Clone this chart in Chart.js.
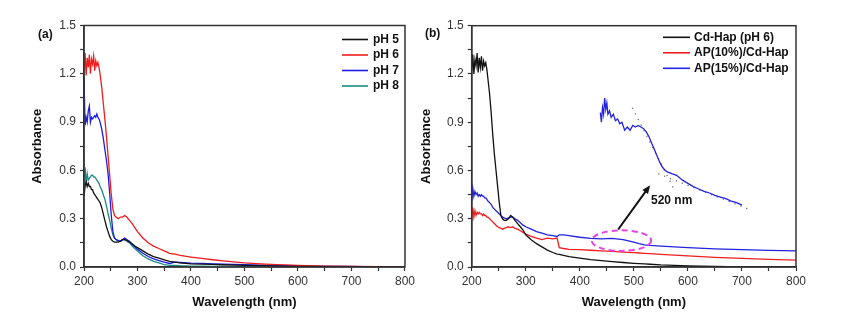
<!DOCTYPE html>
<html>
<head>
<meta charset="utf-8">
<script src="https://cdn.jsdelivr.net/npm/chart.js@4.4.0/dist/chart.umd.min.js"></script>
<style>
  body { margin: 0; background: #fff; }
  #wrap { position: relative; width: 842px; height: 335px; overflow: hidden; font-family: Arial, "Liberation Sans", sans-serif; }
  canvas { position: absolute; top: 0; }
  .tag { position: absolute; font-weight: bold; font-size: 12px; color: #111; }
</style>
</head>
<body>
<div id="wrap">
  <canvas id="chartA" width="418" height="335" style="left:0"></canvas>
  <canvas id="chartB" width="424" height="335" style="left:418px"></canvas>
  <div class="tag" style="left:38px;top:27px">(a)</div>
  <div class="tag" style="left:425px;top:26px">(b)</div>
</div>
<script>
// ---- panel (a): Cd-Hap at different pH ----
const wlA = [200,202,204,206,208,210,212,214,216,218,
             220,222,224,226,228,230,233,236,239,242,
             245,248,251,254,257,260,264,268,272,276,
             280,285,290,295,300,310,320,330,340,350,
             360,370,380,400,420,440,460,480,500,530,
             560,600,650,700,750,800];
const ph5 = [0.44,0.50,0.53,0.50,0.52,0.50,0.50,0.48,0.48,0.46,
             0.45,0.44,0.43,0.42,0.41,0.40,0.37,0.33,0.29,0.25,
             0.22,0.19,0.17,0.16,0.155,0.155,0.155,0.16,0.17,0.17,
             0.165,0.155,0.145,0.13,0.12,0.10,0.08,0.065,0.055,0.045,
             0.035,0.03,0.025,0.02,0.018,0.016,0.014,0.012,0.01,0.008,
             0.006,0.004,0.002,0.001,0,0];
const ph6 = [1.22,1.33,1.19,1.30,1.24,1.32,1.20,1.29,1.26,1.31,
             1.22,1.28,1.25,1.27,1.24,1.20,1.12,1.02,0.92,0.81,
             0.69,0.57,0.45,0.36,0.32,0.31,0.30,0.31,0.31,0.32,
             0.31,0.29,0.27,0.245,0.22,0.18,0.15,0.13,0.115,0.10,
             0.085,0.08,0.072,0.062,0.053,0.045,0.038,0.032,0.026,0.02,
             0.015,0.01,0.006,0.004,0.002,0.001];
const ph7 = [1.18,0.88,0.93,0.90,0.97,1.00,0.90,0.93,0.92,0.93,
             0.94,0.93,0.95,0.93,0.92,0.90,0.86,0.80,0.73,0.66,
             0.58,0.46,0.32,0.22,0.18,0.17,0.165,0.16,0.17,0.18,
             0.17,0.16,0.14,0.125,0.11,0.085,0.065,0.05,0.04,0.03,
             0.022,0.03,0.028,0.024,0.022,0.02,0.018,0.016,0.014,0.012,
             0.01,0.008,0.005,0.003,0.001,0];
const ph8 = [0.50,0.62,0.52,0.58,0.54,0.55,0.56,0.57,0.57,0.56,
             0.56,0.55,0.54,0.53,0.52,0.50,0.48,0.45,0.42,0.38,
             0.33,0.29,0.24,0.20,0.18,0.17,0.16,0.16,0.17,0.17,
             0.16,0.15,0.13,0.115,0.10,0.07,0.05,0.035,0.025,0.015,
             0.01,0.01,0.008,0.006,0.005,0.004,0.003,0.002,0.002,0.001,
             0.001,0,0,0,0,0];

// ---- panel (b): Cd-Hap vs AP/Cd-Hap ----
const wlB = [200,202,204,206,208,210,212,214,216,218,
             220,222,224,226,228,230,233,236,239,242,
             245,248,251,254,257,260,264,268,272,276,
             280,285,290,295,300,310,320,330,340,350,
             358,362,370,380,400,420,440,460,480,500,
             510,520,530,550,600,650,700,750,800];
const cdHap = [1.22,1.32,1.20,1.29,1.25,1.33,1.21,1.30,1.24,1.31,
               1.22,1.28,1.25,1.27,1.23,1.17,1.08,0.96,0.82,0.70,
               0.60,0.50,0.40,0.32,0.30,0.29,0.29,0.30,0.32,0.31,
               0.29,0.27,0.25,0.23,0.20,0.17,0.145,0.125,0.105,0.09,
               0.08,0.078,0.072,0.065,0.055,0.046,0.04,0.034,0.028,0.023,
               0.021,0.019,0.017,0.013,0.007,0.003,0.001,0,0];
const ap10 = [0.29,0.37,0.31,0.35,0.32,0.34,0.33,0.34,0.33,0.33,
              0.32,0.33,0.32,0.32,0.31,0.31,0.30,0.29,0.28,0.27,
              0.26,0.25,0.245,0.24,0.235,0.24,0.245,0.25,0.245,0.25,
              0.24,0.235,0.225,0.215,0.205,0.19,0.18,0.17,0.18,0.175,
              0.18,0.12,0.115,0.11,0.108,0.104,0.10,0.097,0.093,0.089,
              0.087,0.085,0.083,0.079,0.069,0.06,0.054,0.048,0.043];
const ap15 = [0.41,0.49,0.44,0.47,0.45,0.46,0.44,0.45,0.44,0.45,
              0.44,0.44,0.43,0.43,0.42,0.41,0.40,0.39,0.37,0.36,
              0.35,0.34,0.33,0.32,0.31,0.305,0.30,0.305,0.31,0.31,
              0.30,0.29,0.275,0.26,0.25,0.235,0.22,0.21,0.20,0.195,
              0.19,0.20,0.20,0.195,0.185,0.178,0.175,0.178,0.17,0.155,
              0.145,0.138,0.134,0.13,0.12,0.113,0.108,0.103,0.10];

// magnified AP(15%) curve drawn inside panel (b)
const insetWl = [438,440,442,444,446,448,450,452,455,458,
                 462,466,470,474,478,483,488,493,498,503,
                 508,513,518,523,528,533,538,543,548,553,
                 558,563,570,579,590,600,610,620,630,640,
                 650,660,670,680,690,700];
const insetAbs = [0.96,0.90,0.99,0.95,1.05,0.98,1.02,0.95,0.97,0.93,
                  0.95,0.91,0.92,0.89,0.90,0.85,0.87,0.85,0.88,0.87,
                  0.88,0.87,0.86,0.84,0.81,0.77,0.73,0.69,0.65,0.62,
                  0.60,0.59,0.58,0.57,0.54,0.52,0.50,0.485,0.47,0.46,
                  0.445,0.435,0.425,0.41,0.40,0.385];
// tangent lines on the inset
const tanWl1 = [497, 575], tanAbs1 = [0.99, 0.48];
const tanWl2 = [545, 712], tanAbs2 = [0.58, 0.36];

function pts(xs, ys) {
    return xs.map((x, i) => ({ x: x, y: ys[i] }));
}

function line(label, xs, ys, color, extra) {
    return Object.assign({
        label: label,
        data: pts(xs, ys),
        borderColor: color,
        borderWidth: 1.3,
        pointRadius: 0,
        tension: 0,
        fill: false
    }, extra || {});
}

// box around the plot area (top and right sides)
const frame = {
    id: "frame",
    afterDatasetsDraw(chart) {
        const a = chart.chartArea, ctx = chart.ctx;
        ctx.save();
        ctx.strokeStyle = "#333";
        ctx.lineWidth = 1.5;
        ctx.strokeRect(a.left, a.top, a.right - a.left, a.bottom - a.top);
        ctx.restore();
    }
};

// legend drawn inside the plot, like the original
function legendBox(x0, x1, tx, y0, dy) {
    return {
        id: "legendBox",
        afterDraw(chart) {
            const ctx = chart.ctx;
            ctx.save();
            ctx.font = "bold 12px Arial, 'Liberation Sans', sans-serif";
            ctx.textBaseline = "middle";
            ctx.fillStyle = "#111";
            let row = 0;
            chart.data.datasets.forEach(ds => {
                if (ds.inLegend === false) return;
                const y = y0 + row * dy;
                ctx.strokeStyle = ds.borderColor;
                ctx.lineWidth = 1.6;
                ctx.beginPath();
                ctx.moveTo(x0, y);
                ctx.lineTo(x1, y);
                ctx.stroke();
                ctx.fillText(ds.label, tx, y);
                row++;
            });
            ctx.restore();
        }
    };
}

// dashed ellipse, arrow and "520 nm" note in panel (b)
const notes = {
    id: "notes",
    afterDatasetsDraw(chart) {
        const ctx = chart.ctx, xs = chart.scales.x, ys = chart.scales.y;
        const X = v => xs.getPixelForValue(v), Y = v => ys.getPixelForValue(v);
        ctx.save();
        // ellipse
        const cx = X(477), cy = Y(0.164);
        ctx.strokeStyle = "#e444e4";
        ctx.lineWidth = 2;
        ctx.setLineDash([6, 4]);
        ctx.beginPath();
        ctx.ellipse(cx, cy, X(532) - cx, Y(0.1) - cy, 0, 0, Math.PI * 2);
        ctx.stroke();
        ctx.setLineDash([]);
        // arrow
        const ax = X(471), ay = Y(0.233), bx = X(530), by = Y(0.508);
        const ang = Math.atan2(by - ay, bx - ax);
        ctx.strokeStyle = "#111";
        ctx.fillStyle = "#111";
        ctx.lineWidth = 2;
        ctx.beginPath();
        ctx.moveTo(ax, ay);
        ctx.lineTo(bx - 5 * Math.cos(ang), by - 5 * Math.sin(ang));
        ctx.stroke();
        ctx.beginPath();
        ctx.moveTo(bx, by);
        ctx.lineTo(bx - 9 * Math.cos(ang - 0.4), by - 9 * Math.sin(ang - 0.4));
        ctx.lineTo(bx - 9 * Math.cos(ang + 0.4), by - 9 * Math.sin(ang + 0.4));
        ctx.closePath();
        ctx.fill();
        // label
        ctx.font = "bold 12px Arial, 'Liberation Sans', sans-serif";
        ctx.textAlign = "center";
        ctx.textBaseline = "middle";
        ctx.fillText("520 nm", X(570), Y(0.415));
        ctx.restore();
    }
};

function axes(yWidth, yTitlePad) {
    const font = { family: "Arial, 'Liberation Sans', sans-serif" };
    return {
        x: {
            type: "linear", min: 200, max: 800,
            ticks: {
                stepSize: 50, autoSkip: false, maxRotation: 0, padding: 3,
                color: "#333", font: Object.assign({ size: 12 }, font),
                callback: v => (v % 100 === 0 ? v : "")
            },
            grid: { drawOnChartArea: false, drawTicks: true, tickLength: 4, tickColor: "#333", tickWidth: 1.2 },
            border: { color: "#333", width: 1.5 },
            title: {
                display: true, text: "Wavelength (nm)", color: "#111",
                font: Object.assign({ size: 13, weight: "bold" }, font),
                padding: { top: 0, bottom: 2 }
            },
            afterFit: s => { s.height = 45; }
        },
        y: {
            min: 0, max: 1.5,
            ticks: {
                stepSize: 0.15, autoSkip: false, padding: 4,
                color: "#333", font: Object.assign({ size: 12 }, font),
                callback: (v, i) => (i % 2 === 0 ? v.toFixed(1) : "")
            },
            grid: { drawOnChartArea: false, drawTicks: true, tickLength: 4, tickColor: "#333", tickWidth: 1.2 },
            border: { color: "#333", width: 1.5 },
            title: {
                display: true, text: "Absorbance", color: "#111",
                font: Object.assign({ size: 13, weight: "bold" }, font),
                padding: { top: yTitlePad, bottom: 0 }
            },
            afterFit: s => { s.width = yWidth; }
        }
    };
}

new Chart(document.getElementById("chartA"), {
    type: "line",
    data: {
        datasets: [
            line("pH 5", wlA, ph5, "#111111"),
            line("pH 6", wlA, ph6, "#f01c1c"),
            line("pH 7", wlA, ph7, "#1c1ce6"),
            line("pH 8", wlA, ph8, "#1b8a85")
        ]
    },
    options: {
        responsive: false,
        animation: false,
        layout: { padding: { left: 28, right: 10, top: 25.5, bottom: 23 } },
        scales: axes(56, 2),
        plugins: { legend: { display: false }, tooltip: { enabled: false } }
    },
    plugins: [frame, legendBox(342, 368, 373, 39.5, 15.5)]
});

new Chart(document.getElementById("chartB"), {
    type: "line",
    data: {
        datasets: [
            line("Cd-Hap (pH 6)", wlB, cdHap, "#111111"),
            line("AP(10%)/Cd-Hap", wlB, ap10, "#f02020"),
            line("AP(15%)/Cd-Hap", wlB, ap15, "#2323e0"),
            line("inset", insetWl, insetAbs, "#2323e0", { inLegend: false }),
            line("tangent 1", tanWl1, tanAbs1, "#777", { inLegend: false, borderWidth: 1.3, borderDash: [1.3, 5] }),
            line("tangent 2", tanWl2, tanAbs2, "#777", { inLegend: false, borderWidth: 1.3, borderDash: [1.3, 5] })
        ]
    },
    options: {
        responsive: false,
        animation: false,
        layout: { padding: { left: 0, right: 46, top: 25.7, bottom: 23 } },
        scales: axes(53.7, 1),
        plugins: { legend: { display: false }, tooltip: { enabled: false } }
    },
    plugins: [frame, notes, legendBox(245, 272, 276, 37.3, 15.5)]
});
</script>
</body>
</html>
